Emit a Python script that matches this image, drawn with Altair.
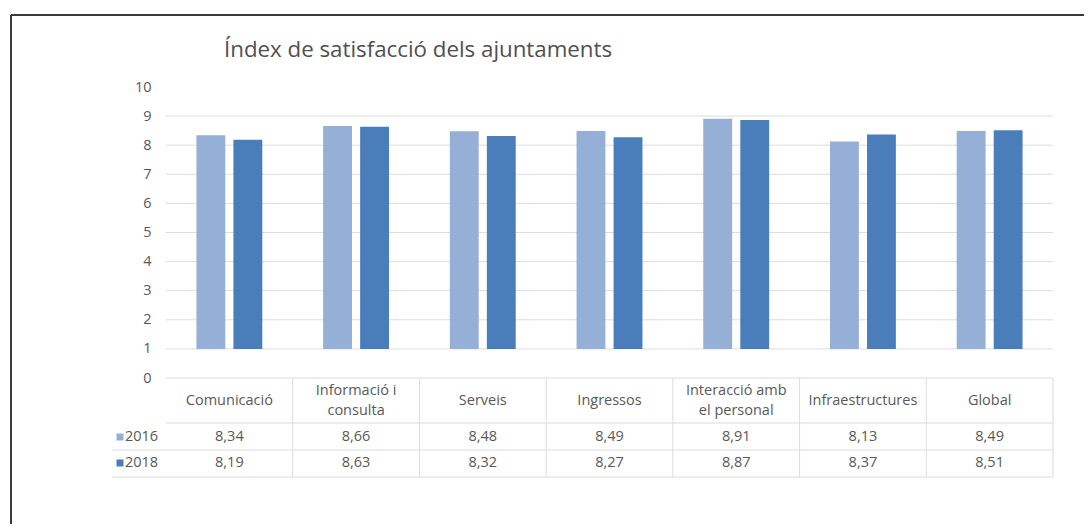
import altair as alt
import pandas as pd

categories = ["Comunicació", "Informació i consulta", "Serveis", "Ingressos",
              "Interacció amb el personal", "Infraestructures", "Global"]
header_labels = ["Comunicació", "Informació i\nconsulta", "Serveis", "Ingressos",
                 "Interacció amb\nel personal", "Infraestructures", "Global"]
years = ["2016", "2018"]
values_2016 = [8.34, 8.66, 8.48, 8.49, 8.91, 8.13, 8.49]
values_2018 = [8.19, 8.63, 8.32, 8.27, 8.87, 8.37, 8.51]
y_ticks = list(range(0, 11))
grid_values = list(range(0, 10))
bar_base = 1
title_text = "Índex de satisfacció dels ajuntaments"
colors = ["#96AFD7", "#4A7EBB"]

W, H = 887, 291
FONT = "Open Sans"
TXT = "#595959"

bars_df = pd.DataFrame({
    "cat": categories * 2,
    "year": [years[0]] * len(categories) + [years[1]] * len(categories),
    "value": values_2016 + values_2018,
})
bars_df["label"] = bars_df["value"].map(lambda v: f"{v:.2f}".replace(".", ","))
hdr_df = pd.DataFrame({"cat": categories, "hdr": header_labels})
hdr_df["two"] = hdr_df["hdr"].str.contains("\n")
one = pd.DataFrame({"a": [0]})
yr_df = pd.DataFrame({"year": years})

yscale = alt.Scale(domain=[0, 10], nice=False, zero=True)
yaxis = alt.Axis(values=y_ticks, domain=False, ticks=False, grid=False, labelColor=TXT,
                 labelFont=FONT, labelFontSize=14.5, labelPadding=15)
color = alt.Color("year:N", scale=alt.Scale(domain=years, range=colors), legend=None)
tabscale = alt.Scale(domain=categories, paddingInner=0, paddingOuter=0)
LINE = "#dcdcdc"

grid = alt.Chart(pd.DataFrame({"g": grid_values})).mark_rule(color=LINE, strokeWidth=1).encode(
    y=alt.Y("g:Q", scale=yscale, axis=yaxis, title=None),
    x=alt.value(0), x2=alt.value(W),
)

bars = alt.Chart(bars_df).mark_bar().encode(
    x=alt.X("cat:N", axis=None,
            scale=alt.Scale(domain=categories, paddingInner=0.48, paddingOuter=0.24)),
    xOffset=alt.XOffset("year:N", scale=alt.Scale(domain=years, paddingInner=0.22, paddingOuter=0)),
    y=alt.Y("value:Q", scale=yscale, axis=yaxis, title=None),
    y2=alt.datum(bar_base),
    color=color,
)

xtab = alt.X("cat:N", axis=None, scale=tabscale)
TS = 14.5

header1 = alt.Chart(hdr_df).transform_filter("!datum.two").mark_text(
    font=FONT, fontSize=TS, color=TXT, baseline="middle"
).encode(x=xtab, y=alt.value(314), text="hdr:N")

header2 = alt.Chart(hdr_df).transform_filter("datum.two").mark_text(
    font=FONT, fontSize=TS, color=TXT, lineBreak="\n", lineHeight=20, baseline="middle"
).encode(x=xtab, y=alt.value(304), text="hdr:N")

row16 = alt.Chart(bars_df).transform_filter(alt.datum.year == years[0]).mark_text(
    font=FONT, fontSize=TS, color=TXT, baseline="middle"
).encode(x=xtab, y=alt.value(350), text="label:N")

row18 = alt.Chart(bars_df).transform_filter(alt.datum.year == years[1]).mark_text(
    font=FONT, fontSize=TS, color=TXT, baseline="middle"
).encode(x=xtab, y=alt.value(376), text="label:N")

dividers = alt.Chart(hdr_df).mark_rule(color=LINE, strokeWidth=1).encode(
    x=alt.X("cat:N", axis=None, scale=tabscale, bandPosition=1),
    y=alt.value(291), y2=alt.value(390),
)

hline_hdr = alt.Chart(one).mark_rule(color=LINE).encode(
    x=alt.value(0), x2=alt.value(W), y=alt.value(336))
hline_r1 = alt.Chart(one).mark_rule(color=LINE).encode(
    x=alt.value(-54), x2=alt.value(W), y=alt.value(363))
hline_r2 = alt.Chart(one).mark_rule(color=LINE).encode(
    x=alt.value(-54), x2=alt.value(W), y=alt.value(390))

key16 = alt.Chart(yr_df).transform_filter(alt.datum.year == years[0]).mark_square(size=49, opacity=1).encode(
    x=alt.value(-46), y=alt.value(350), color=color)
key18 = alt.Chart(yr_df).transform_filter(alt.datum.year == years[1]).mark_square(size=49, opacity=1).encode(
    x=alt.value(-46), y=alt.value(376), color=color)
lab16 = alt.Chart(yr_df).transform_filter(alt.datum.year == years[0]).mark_text(
    font=FONT, fontSize=14.5, color=TXT, align="left", baseline="middle").encode(
    x=alt.value(-41), y=alt.value(350), text="year:N")
lab18 = alt.Chart(yr_df).transform_filter(alt.datum.year == years[1]).mark_text(
    font=FONT, fontSize=14.5, color=TXT, align="left", baseline="middle").encode(
    x=alt.value(-41), y=alt.value(376), text="year:N")

title = alt.Chart(pd.DataFrame({"t": [title_text]})).mark_text(
    font=FONT, fontSize=22.3, color="#505050", align="left", baseline="alphabetic"
).encode(x=alt.value(58), y=alt.value(-30), text="t:N")

frame_top = alt.Chart(one).mark_rule(color="#3a3a3a", strokeWidth=2).encode(
    x=alt.value(-155), x2=alt.value(W + 60), y=alt.value(-72))
frame_left = alt.Chart(one).mark_rule(color="#3a3a3a", strokeWidth=2).encode(
    x=alt.value(-155), y=alt.value(-72), y2=alt.value(470))

chart = alt.layer(
    grid, bars, dividers, hline_hdr, hline_r1, hline_r2, header1, header2, row16, row18,
    key16, key18, lab16, lab18, title, frame_top, frame_left
).resolve_scale(x="independent").properties(
    width=W, height=H,
    autosize=alt.AutoSizeParams(type="none"),
    padding={"left": 158, "top": 79, "right": 31, "bottom": 146},
    background="white",
).configure_view(stroke=None)

chart.save("out.html", embed_options={"renderer": "svg", "actions": False})
